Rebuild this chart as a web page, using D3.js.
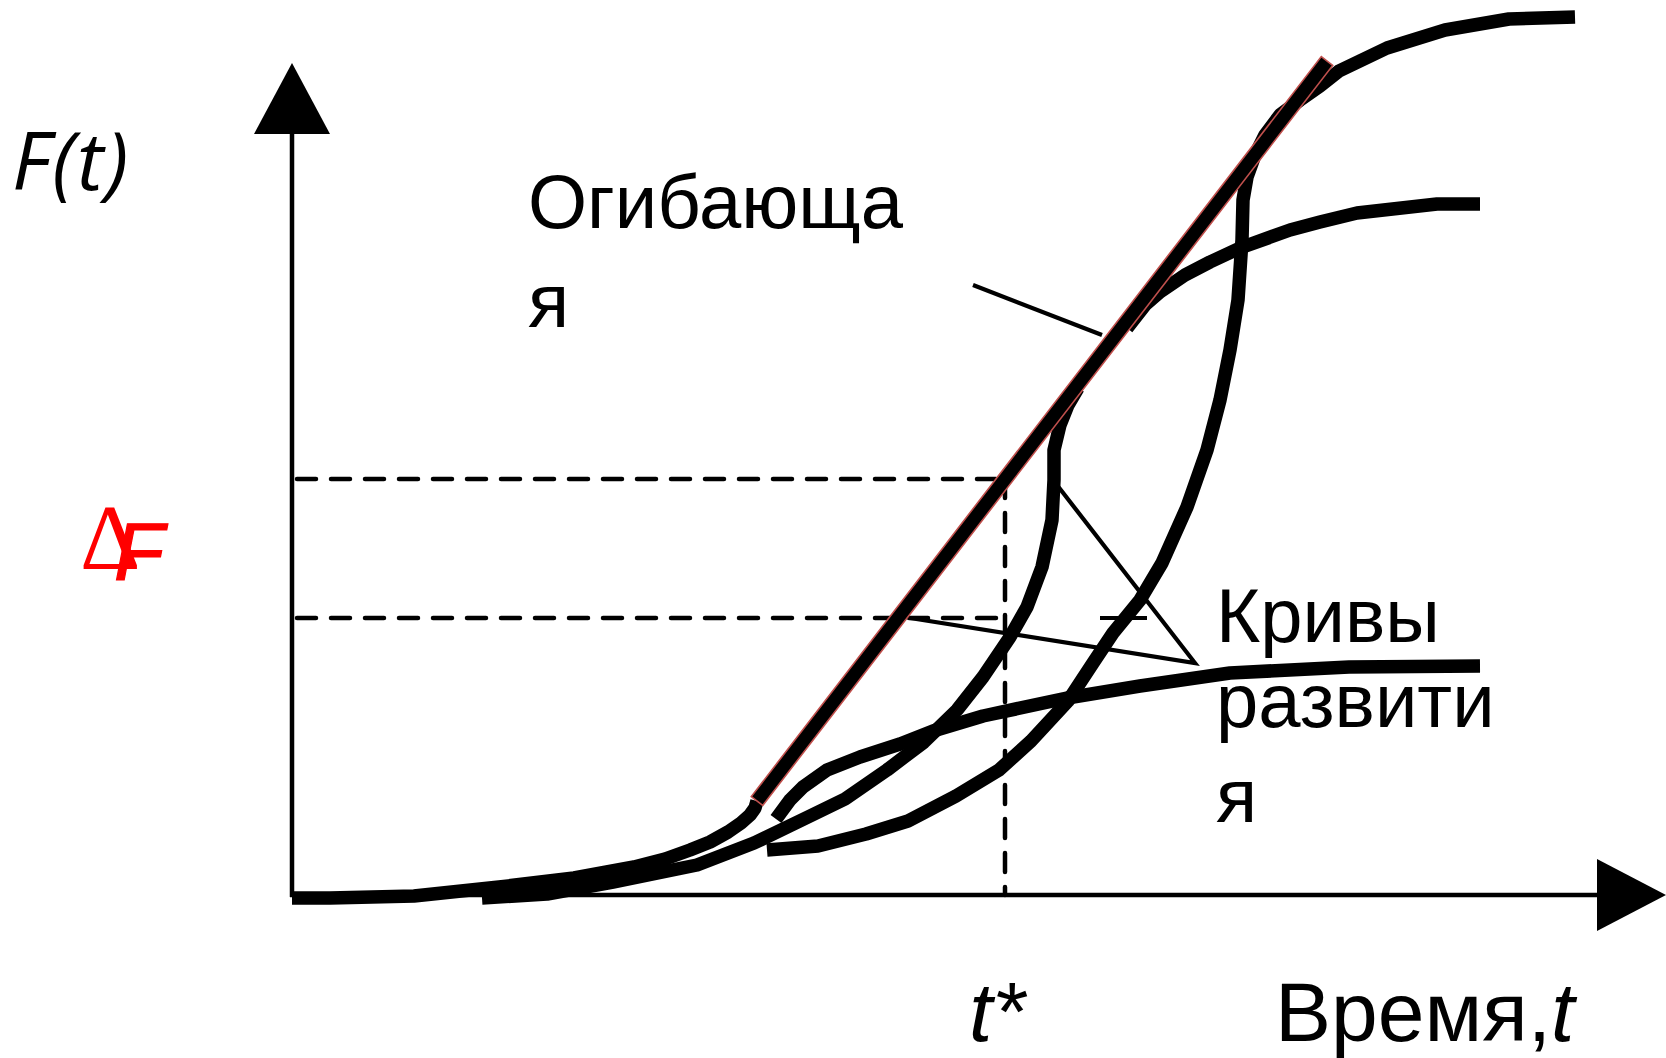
<!DOCTYPE html>
<html><head><meta charset="utf-8">
<script src="https://cdn.jsdelivr.net/npm/d3@7"></script>
<style>html,body{margin:0;padding:0;background:#fff;overflow:hidden}</style>
</head><body>
<svg id="chart" width="1666" height="1058"></svg>
<script>
// ---- data (t, F) in abstract units ----
const curveA = [[0,-0.3],[3.8,-0.3],[12.2,-0.1],[20.7,0.8],[28.2,1.7],[34.2,2.8],[37.3,3.6],[39.8,4.5],[41.8,5.3],[43.6,6.3],[44.9,7.2],[45.8,8.0],[46.3,8.7],[46.5,9.4]];
const curveB = [[19.0,-0.3],[25.5,0.1],[32.1,1.3],[40.5,3.0],[46.2,5.2],[51.6,7.8],[55.3,9.6],[59.5,12.5],[63.2,15.3],[66.5,18.5],[69.1,21.8],[71.8,25.8],[73.5,28.8],[75.0,32.8],[76.0,37.5],[76.2,41.5],[76.2,44.5],[76.8,47.0],[77.6,49.0],[78.6,50.7]];
const curveLow = [[48.4,7.6],[49.8,9.5],[51.1,10.8],[53.5,12.5],[56.8,13.8],[60.8,15.1],[64.1,16.4],[69.1,17.9],[77.5,19.7],[84.8,20.9],[93.8,22.2],[105.7,22.8],[118.8,22.9]];
const curveC = [[47.5,4.5],[52.6,4.9],[57.4,6.1],[61.6,7.4],[66.4,9.9],[70.7,12.5],[73.9,15.4],[77.6,19.4],[80.1,23.2],[82.1,26.2],[84.8,29.5],[87.0,33.2],[89.5,38.8],[91.5,44.5],[92.8,49.5],[93.8,54.5],[94.6,59.5],[95.0,65.5],[95.1,69.5],[95.5,71.8],[96.3,74.0],[97.3,76.0],[98.8,78.0],[100.8,79.5],[102.8,80.9],[104.7,82.4],[109.5,84.7],[115.3,86.5],[121.7,87.6],[128.3,87.8]];
const curveMid = [[83.5,56.7],[85.3,59.0],[86.8,60.3],[89.3,62.0],[91.8,63.3],[94.8,64.7],[99.8,66.5],[102.8,67.3],[106.5,68.2],[114.5,69.1],[118.8,69.1]];
const envelope = [[46.5,9.4],[103.5,83.4]];
const tStar = 71.3;
const fLevels = [41.6, 27.7];
const pointerEnvelope = [[68.1,61.0],[81.0,56.0]];
const pointerCurves = [[76.5,41.0],[90.3,23.2],[61.8,27.7]];
const stray = [[80.8,27.7],[85.5,27.7]];
const axisExtent = {xEnd:130.5, xTip:137.4, yEnd:76.1, yTip:83.2};

const svg = d3.select('#chart');
const x = d3.scaleLinear().domain([0,100]).range([292,1292]);
const y = d3.scaleLinear().domain([0,80]).range([895,95]);
const line = d3.line().x(d=>x(d[0])).y(d=>y(d[1])).curve(d3.curveLinear);

// axes
svg.append('line').attr('x1',x(0)).attr('x2',x(0)).attr('y1',y(0)+2).attr('y2',y(axisExtent.yEnd))
  .attr('stroke','#000').attr('stroke-width',4.5);
svg.append('line').attr('x1',x(0)-2).attr('x2',x(axisExtent.xEnd)).attr('y1',y(0)).attr('y2',y(0))
  .attr('stroke','#000').attr('stroke-width',4.5);
svg.append('path').attr('d',`M${x(0)},${y(axisExtent.yTip)}L${x(0)-38},${y(axisExtent.yEnd)}L${x(0)+38},${y(axisExtent.yEnd)}Z`).attr('fill','#000');
svg.append('path').attr('d',`M${x(axisExtent.xTip)},${y(0)}L${x(axisExtent.xEnd)},${y(0)-36}L${x(axisExtent.xEnd)},${y(0)+36}Z`).attr('fill','#000');

// curves
const thick = {stroke:'#000','stroke-width':13.5,fill:'none','stroke-linejoin':'round','stroke-linecap':'butt'};
[curveA, curveB, curveLow, curveC, curveMid].forEach(c=>{
  const p = svg.append('path').attr('d',line(c));
  Object.entries(thick).forEach(([k,v])=>p.attr(k,v));
});

// dashed guides
const dashed = g => g.attr('stroke','#000').attr('stroke-width',4.5).attr('stroke-dasharray','19 15').attr('stroke-linecap','round').attr('fill','none');
fLevels.forEach(f=>{
  dashed(svg.append('line').attr('x1',x(0)+5).attr('x2',x(tStar)).attr('y1',y(f)).attr('y2',y(f)));
});
dashed(svg.append('line').attr('x1',x(tStar)).attr('x2',x(tStar)).attr('y1',y(fLevels[0])).attr('y2',y(0)));

// envelope (black bar with red outline)
(function(){
  const [a,b] = envelope;
  const x1=x(a[0]), y1=y(a[1]), x2=x(b[0]), y2=y(b[1]);
  const len=Math.hypot(x2-x1,y2-y1), nx=-(y2-y1)/len*7.2, ny=(x2-x1)/len*7.2;
  svg.append('path').attr('d',`M${x1+nx},${y1+ny}L${x2+nx},${y2+ny}L${x2-nx},${y2-ny}L${x1-nx},${y1-ny}Z`)
    .attr('fill','#000').attr('stroke','#c0504d').attr('stroke-width',1.6);
})();

// pointers
const thin = p => p.attr('stroke','#000').attr('stroke-width',4.2).attr('fill','none');
thin(svg.append('path').attr('d',line(pointerEnvelope)));
thin(svg.append('path').attr('d',line(pointerCurves)));
thin(svg.append('path').attr('d',line(stray)));

// texts
const sans = '"Liberation Sans", Arial, sans-serif';
svg.append('text').attr('x',12).attr('y',190).attr('font-family','"Open Sans", sans-serif').attr('font-style','italic').attr('font-size',80).attr('letter-spacing',2).text('F(t)');
svg.append('text').attr('x',80).attr('y',569).attr('font-family','"Liberation Serif", serif').attr('font-size',94).attr('fill','#ff0000').text('Δ');
svg.append('text').attr('x',114).attr('y',580).attr('font-family',sans).attr('font-style','italic').attr('font-size',82).attr('fill','#ff0000').attr('stroke','#ff0000').attr('stroke-width',1.2).text('F');
const lbl = (t,xx,yy,size)=>svg.append('text').attr('x',xx).attr('y',yy).attr('font-family',sans).attr('font-size',size).attr('fill','#000').text(t);
lbl('Огибающа',528,228,76);
lbl('я',528,327,76);
lbl('Кривы',1216,642,76);
lbl('развити',1216,727,76);
lbl('я',1216,822,76);
svg.append('text').attr('x',969).attr('y',1041).attr('font-family',sans).attr('font-style','italic').attr('font-size',84).text('t*');
const tl = svg.append('text').attr('x',1275).attr('y',1041).attr('font-family',sans).attr('font-size',84);
tl.append('tspan').text('Время,');
tl.append('tspan').attr('font-style','italic').text('t');
</script>
</body></html>
